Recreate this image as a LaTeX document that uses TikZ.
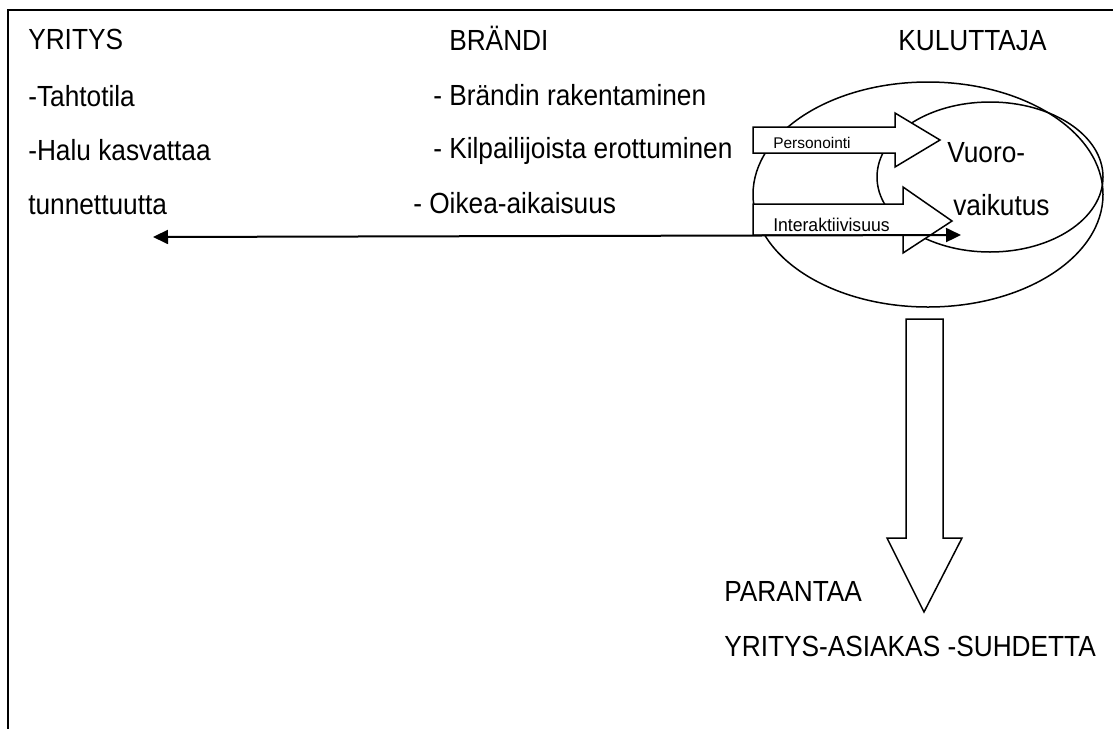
\documentclass[tikz,border=0pt]{standalone}
\usepackage{fontspec}
\setmainfont{Liberation Sans}
\usetikzlibrary{arrows.meta}
\newcommand\talltext[1]{\scalebox{1.01}[1.12]{#1}}
\begin{document}
\begin{tikzpicture}[x=0.75pt,y=-0.75pt,
  txt/.style={anchor=base west,inner sep=0pt,font=\fontsize{19.5}{23}\selectfont},
  smalltxt/.style={anchor=base west,inner sep=0pt,font=\fontsize{11.6}{14}\selectfont},
  midtxt/.style={anchor=base west,inner sep=0pt,font=\fontsize{13.2}{16}\selectfont},
  outline/.style={draw=black,line width=1.125pt},
  blockarrow/.style={draw=black,fill=white,line width=1.125pt,line join=miter},
  frame/.style={draw=black,line width=1.5pt},
  link/.style={draw=black,line width=1.5pt,{Triangle[length=11.25pt,width=10.5pt]}-{Triangle[length=11.25pt,width=10.5pt]}}]
\useasboundingbox (0,0) rectangle (1113,729);
% frame (top and left only)
\draw[frame] (1113,9.5) -- (7.5,9.5) -- (7.5,729);
% left column
\node[txt] (yritys) at (28,49) {\talltext{YRITYS}};
\node[txt] (tahto) at (28,106) {\talltext{-Tahtotila}};
\node[txt] (halu) at (28,160) {\talltext{-Halu kasvattaa}};
\node[txt] (tunn) at (28,214) {\talltext{tunnettuutta}};
% middle column
\node[txt] (brandi) at (449,50) {\talltext{BRÄNDI}};
\node[txt] (rak) at (433,105) {\talltext{- Brändin rakentaminen}};
\node[txt] (kilp) at (433,158) {\talltext{- Kilpailijoista erottuminen}};
\node[txt] (oikea) at (413,213) {\talltext{- Oikea-aikaisuus}};
% right column
\node[txt] (kul) at (898,50) {\talltext{KULUTTAJA}};
% ellipses
\draw[outline] (928,194.5) ellipse [x radius=175, y radius=112.5];
\draw[outline] (990,177) ellipse [x radius=113, y radius=75];
% block arrows
\draw[blockarrow] (753,127) -- (895,127) -- (895,113) -- (940,140) -- (895,167) -- (895,153) -- (753,153) -- cycle;
\draw[blockarrow] (753,204) -- (903,204) -- (903,187) -- (952,221) -- (903,253) -- (903,235) -- (753,235) -- cycle;
\node[smalltxt] (pers) at (773,148) {Personointi};
\node[midtxt] (inter) at (773,231) {\scalebox{1}[1.05]{Interaktiivisuus}};
\node[txt] (vuoro) at (947,162) {\talltext{Vuoro-}};
\node[txt] (vaik) at (953,215) {\talltext{vaikutus}};
% long double arrow
\coordinate (lend) at (153,237);
\coordinate (rend) at (961,235);
\draw[link] (lend) -- (rend);
% down block arrow
\draw[blockarrow] (906,319) -- (943,319) -- (943,538) -- (962,538) -- (924,612) -- (887,538) -- (906,538) -- cycle;
\node[txt] (par) at (724,601) {\talltext{PARANTAA}};
\node[txt] (suhde) at (724,656) {\talltext{YRITYS-ASIAKAS -SUHDETTA}};
\end{tikzpicture}
\end{document}
